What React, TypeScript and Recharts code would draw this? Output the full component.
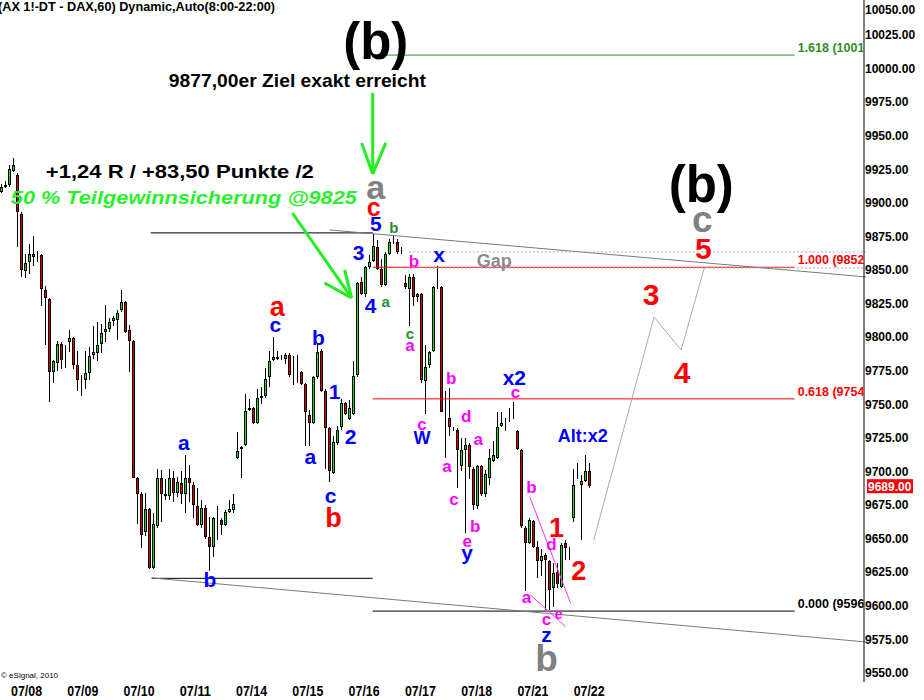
import React from 'react';
import { ComposedChart, Bar, XAxis, YAxis, ReferenceLine, ReferenceDot } from 'recharts';

// ---------- hourly candles (DAX future, 60 min) ----------
const opens = [
  9908, 9912, 9913, 9924, 9921, 9892, 9849, 9856, 9862, 9861,
  9861, 9835, 9828, 9774, 9781, 9795, 9785, 9796, 9799, 9779,
  9769, 9768, 9773, 9787, 9788, 9795, 9804, 9806, 9812, 9813,
  9820, 9826, 9805, 9797, 9695, 9683, 9655, 9672, 9628, 9659,
  9695, 9682, 9682, 9695, 9684, 9691, 9683, 9695, 9690, 9674,
  9660, 9673, 9651, 9644, 9665, 9664, 9660, 9670, 9671, 9710,
  9717, 9720, 9746, 9747, 9736, 9755, 9756, 9770, 9783, 9785,
  9784, 9784, 9787, 9771, 9773, 9774, 9765, 9742, 9736, 9770,
  9790, 9760, 9732, 9699, 9721, 9733, 9751, 9739, 9743, 9772,
  9841, 9832, 9852, 9857, 9867, 9851, 9839, 9862, 9871, 9871,
  9864, 9840, 9836, 9845, 9830, 9832, 9767, 9779, 9790, 9838,
  9837, 9743, 9740, 9732, 9731, 9704, 9716, 9720, 9702, 9674,
  9704, 9683, 9695, 9708, 9710, 9734, 9738, 9738, 9742, 9730,
  9716, 9658, 9647, 9663, 9644, 9633, 9638, 9633, 9613, 9625,
  9614, 9647, 9642, 9665, 9698, 9690, 9693, 9700,
];
const highs = [
  9914, 9916, 9928, 9933, 9922, 9893, 9862, 9869, 9875, 9864,
  9862, 9838, 9829, 9783, 9797, 9796, 9794, 9805, 9800, 9790,
  9772, 9790, 9793, 9808, 9811, 9810, 9824, 9814, 9816, 9820,
  9835, 9827, 9809, 9798, 9696, 9685, 9684, 9673, 9669, 9702,
  9701, 9694, 9702, 9700, 9696, 9700, 9712, 9705, 9692, 9688,
  9679, 9675, 9666, 9666, 9674, 9665, 9671, 9679, 9683, 9729,
  9719, 9758, 9754, 9748, 9761, 9763, 9777, 9790, 9800, 9790,
  9787, 9788, 9788, 9786, 9787, 9775, 9766, 9746, 9771, 9795,
  9791, 9761, 9733, 9726, 9734, 9754, 9752, 9753, 9782, 9841,
  9845, 9853, 9861, 9877, 9872, 9858, 9863, 9873, 9876, 9873,
  9867, 9846, 9847, 9847, 9833, 9833, 9794, 9790, 9838, 9853,
  9838, 9760, 9762, 9733, 9732, 9725, 9725, 9721, 9703, 9705,
  9705, 9701, 9717, 9723, 9744, 9744, 9740, 9747, 9752, 9731,
  9717, 9659, 9665, 9664, 9648, 9642, 9639, 9634, 9632, 9632,
  9647, 9649, 9644, 9702, 9706, 9697, 9712, 9706,
];
const lows = [
  9907, 9911, 9912, 9923, 9867, 9845, 9844, 9847, 9853, 9856,
  9823, 9794, 9752, 9766, 9775, 9776, 9777, 9789, 9776, 9760,
  9756, 9761, 9768, 9784, 9782, 9788, 9796, 9804, 9808, 9798,
  9819, 9803, 9774, 9695, 9661, 9643, 9652, 9627, 9627, 9658,
  9662, 9679, 9679, 9677, 9681, 9676, 9669, 9677, 9665, 9659,
  9658, 9650, 9626, 9636, 9649, 9653, 9659, 9669, 9669, 9709,
  9695, 9719, 9745, 9735, 9735, 9750, 9755, 9763, 9782, 9783,
  9783, 9780, 9770, 9764, 9766, 9764, 9719, 9719, 9735, 9769,
  9759, 9702, 9692, 9698, 9720, 9731, 9742, 9738, 9742, 9770,
  9831, 9830, 9851, 9856, 9850, 9837, 9838, 9861, 9869, 9862,
  9862, 9836, 9808, 9823, 9826, 9766, 9743, 9777, 9789, 9836,
  9744, 9710, 9726, 9730, 9688, 9700, 9654, 9694, 9671, 9672,
  9682, 9681, 9690, 9707, 9709, 9733, 9730, 9737, 9739, 9716,
  9658, 9611, 9646, 9643, 9621, 9622, 9597, 9597, 9599, 9613,
  9613, 9634, 9634, 9662, 9694, 9649, 9692, 9688,
];
const closes = [
  9912, 9913, 9925, 9928, 9893, 9850, 9855, 9862, 9860, 9862,
  9836, 9829, 9774, 9782, 9795, 9783, 9786, 9799, 9779, 9768,
  9768, 9773, 9786, 9789, 9794, 9803, 9806, 9811, 9814, 9818,
  9826, 9804, 9797, 9695, 9683, 9653, 9672, 9628, 9661, 9695,
  9683, 9683, 9695, 9684, 9692, 9683, 9695, 9691, 9675, 9660,
  9673, 9651, 9644, 9665, 9666, 9660, 9670, 9672, 9676, 9715,
  9718, 9745, 9747, 9736, 9755, 9756, 9769, 9782, 9785, 9784,
  9784, 9787, 9772, 9772, 9774, 9765, 9744, 9736, 9770, 9789,
  9760, 9732, 9700, 9722, 9731, 9751, 9743, 9747, 9771, 9840,
  9832, 9852, 9856, 9868, 9851, 9839, 9862, 9871, 9871, 9863,
  9864, 9837, 9845, 9830, 9832, 9768, 9778, 9789, 9837, 9838,
  9744, 9743, 9733, 9732, 9716, 9716, 9720, 9703, 9675, 9704,
  9683, 9698, 9710, 9712, 9733, 9736, 9738, 9739, 9742, 9717,
  9659, 9647, 9664, 9644, 9633, 9637, 9634, 9612, 9624, 9616,
  9645, 9643, 9642, 9690, 9697, 9693, 9700, 9689,
];

// time axis: hourly slots (incl. future empty slots), first bar of each day
const dayStartIndex = [3, 17, 31, 45, 59, 73, 87, 101, 115, 129, 143];
const dayLabels = ['07/08', '07/09', '07/10', '07/11', '07/14', '07/15', '07/16', '07/17', '07/18', '07/21', '07/22'];
const totalSlots = 216;

const priceTicks = [9550, 9575, 9600, 9625, 9650, 9675, 9700, 9725, 9750, 9775, 9800, 9825, 9850, 9875, 9900, 9925, 9950, 9975, 10000, 10025, 10050];
const lastPrice = 9689;

// Fibonacci levels
const fibRatios = ['1.618', '1.000', '0.618', '0.000'];
const fibValues = [10010, 9852, 9754, 9596];
const fibStart = 92.75;
const fibEnd = 197.75;

// drawn lines (data coordinates: slot index, price)
const segments = [
  { x1: 37.5, y1: 9877.6, x2: 92.75, y2: 9877.6, kind: 'black' },
  { x1: 37.75, y1: 9620.4, x2: 92.75, y2: 9620.4, kind: 'black' },
  { x1: 82, y1: 9879.8, x2: 215.5, y2: 9844.8, kind: 'trend' },
  { x1: 37.75, y1: 9620.7, x2: 215.5, y2: 9573.0, kind: 'trend' },
  { x1: 101.75, y1: 9863.4, x2: 215.5, y2: 9863.4, kind: 'gap' },
  { x1: 101.75, y1: 9851.5, x2: 215.5, y2: 9851.5, kind: 'gap' },
  { x1: 147.75, y1: 9648.9, x2: 162.75, y2: 9815.0, kind: 'proj' },
  { x1: 162.75, y1: 9815.0, x2: 169.5, y2: 9790.4, kind: 'proj' },
  { x1: 169.5, y1: 9790.4, x2: 175.25, y2: 9851.5, kind: 'proj' },
  { x1: 131.8, y1: 9681.2, x2: 142, y2: 9601.8, kind: 'mag' },
  { x1: 132, y1: 9608.0, x2: 140.75, y2: 9584.4, kind: 'mag' },
  { x1: 92.75, y1: 9981.8, x2: 92.75, y2: 9921.5, kind: 'arrow' },
  { x1: 90, y1: 9944.6, x2: 92.75, y2: 9921.5, kind: 'arrow' },
  { x1: 96, y1: 9944.6, x2: 92.75, y2: 9921.5, kind: 'arrow' },
  { x1: 72.75, y1: 9892.4, x2: 87.5, y2: 9829.2, kind: 'arrow' },
  { x1: 80.75, y1: 9840.3, x2: 87.5, y2: 9829.2, kind: 'arrow' },
  { x1: 85.75, y1: 9850.0, x2: 87.5, y2: 9829.2, kind: 'arrow' },
];

// text annotations (data coordinates)
const annotations = [
  { t: '(AX 1!-DT - DAX,60) Dynamic,Auto(8:00-22:00)', x: -0.5, y: 10045.0, kind: 'title' },
  { t: '\u00A9 eSignal, 2010', x: 0.25, y: 9548.5, kind: 'copy' },
  { t: '(b)', x: 93.5, y: 10017.5, kind: 'bigB' },
  { t: '9877,00er Ziel exakt erreicht', x: 74, y: 9991.5, kind: 'ziel' },
  { t: '+1,24 R / +83,50 Punkte /2', x: 44.75, y: 9923.7, kind: 'rtext' },
  { t: '50 % Teilgewinnsicherung @9825', x: 45.75, y: 9904.4, kind: 'teil' },
  { t: 'a', x: 93.5, y: 9909.6, kind: 'grey' },
  { t: 'c', x: 93, y: 9895.4, kind: 'red' },
  { t: '5', x: 93.5, y: 9885.0, kind: 'blue' },
  { t: 'b', x: 98, y: 9881.3, kind: 'green' },
  { t: '3', x: 89.25, y: 9863.4, kind: 'blue' },
  { t: '4', x: 92.25, y: 9823.9, kind: 'blue' },
  { t: 'a', x: 96, y: 9825.4, kind: 'green' },
  { t: 'b', x: 103, y: 9856.7, kind: 'mag' },
  { t: 'x', x: 109.25, y: 9860.4, kind: 'blue' },
  { t: 'Gap', x: 123, y: 9856.0, kind: 'gap' },
  { t: 'c', x: 102, y: 9801.6, kind: 'green' },
  { t: 'a', x: 102, y: 9792.7, kind: 'mag' },
  { t: 'a', x: 69, y: 9821.0, kind: 'redL' },
  { t: 'c', x: 68.5, y: 9808.3, kind: 'blue' },
  { t: 'b', x: 79.25, y: 9800.1, kind: 'blue' },
  { t: '1', x: 83.25, y: 9759.2, kind: 'blue' },
  { t: '2', x: 87.25, y: 9725.7, kind: 'blue' },
  { t: 'a', x: 77.25, y: 9710.0, kind: 'blue' },
  { t: 'c', x: 82.25, y: 9681.0, kind: 'blue' },
  { t: 'b', x: 83, y: 9666.1, kind: 'redL' },
  { t: 'a', x: 45.75, y: 9720.4, kind: 'blue' },
  { t: 'b', x: 52.25, y: 9619.2, kind: 'blue' },
  { t: 'c', x: 105, y: 9734.6, kind: 'mag' },
  { t: 'W', x: 105, y: 9724.9, kind: 'blueW' },
  { t: 'b', x: 112.25, y: 9769.6, kind: 'mag' },
  { t: 'd', x: 116, y: 9741.3, kind: 'mag' },
  { t: 'a', x: 119, y: 9723.4, kind: 'mag' },
  { t: 'a', x: 111.25, y: 9703.3, kind: 'mag' },
  { t: 'c', x: 113, y: 9678.7, kind: 'mag' },
  { t: 'b', x: 118.25, y: 9659.4, kind: 'mag' },
  { t: 'e', x: 116.25, y: 9647.5, kind: 'mag' },
  { t: 'y', x: 116.25, y: 9636.3, kind: 'blue' },
  { t: 'x2', x: 128, y: 9770.3, kind: 'blue' },
  { t: 'c', x: 128.25, y: 9758.4, kind: 'mag' },
  { t: 'Alt:x2', x: 145, y: 9726.4, kind: 'alt' },
  { t: 'b', x: 132.25, y: 9688.4, kind: 'mag' },
  { t: '1', x: 138.5, y: 9658.6, kind: 'redL' },
  { t: 'd', x: 137.25, y: 9646.0, kind: 'mag' },
  { t: '2', x: 144, y: 9626.6, kind: 'redL' },
  { t: 'a', x: 131, y: 9605.8, kind: 'mag' },
  { t: 'c', x: 136, y: 9589.4, kind: 'mag' },
  { t: 'e', x: 139, y: 9593.1, kind: 'magS' },
  { t: 'z', x: 136, y: 9577.5, kind: 'blue' },
  { t: 'b', x: 136, y: 9561.1, kind: 'greyB' },
  { t: '(b)', x: 174.5, y: 9911.1, kind: 'bigB' },
  { t: 'c', x: 174.75, y: 9885.7, kind: 'greyC' },
  { t: '5', x: 175, y: 9866.4, kind: 'redXL' },
  { t: '3', x: 162, y: 9832.1, kind: 'redXL' },
  { t: '4', x: 169.75, y: 9774.1, kind: 'redXL' },
];

// ---------- styles ----------
const CHART_W = 924;
const CHART_H = 700;
const FONT = "'Liberation Sans', Arial, Helvetica, sans-serif";
const UP = '#22dd22';
const DOWN = '#dd0000';

type TextStyle = { size: number; color: string; weight?: string; italic?: boolean; anchor?: 'start' | 'middle'; width?: number };
const TEXT_STYLES: Record<string, TextStyle> = {
  title: { size: 12, color: '#000', anchor: 'start', width: 277 },
  copy: { size: 8, color: '#000', weight: 'normal', anchor: 'start' },
  bigB: { size: 51, color: '#000' },
  ziel: { size: 19, color: '#000', width: 257 },
  rtext: { size: 19, color: '#000', width: 268 },
  teil: { size: 19, color: '#2bef2b', italic: true, width: 346 },
  grey: { size: 34, color: '#808080' },
  greyC: { size: 37, color: '#808080' },
  greyB: { size: 37, color: '#808080' },
  red: { size: 25, color: '#ff0000' },
  redL: { size: 27, color: '#ff0000' },
  redXL: { size: 30, color: '#ff0000' },
  blue: { size: 21, color: '#0000ff' },
  blueW: { size: 18, color: '#0000ff' },
  alt: { size: 18, color: '#0000ff' },
  mag: { size: 17, color: '#ff00ff' },
  magS: { size: 14, color: '#ff00ff' },
  green: { size: 15, color: '#2e8b2e' },
  gap: { size: 18, color: '#8c8c8c' },
};

type LineStyle = { stroke: string; width: number; dash?: string };
const LINE_STYLES: Record<string, LineStyle> = {
  black: { stroke: '#000', width: 1 },
  trend: { stroke: '#6f806f', width: 1 },
  gap: { stroke: '#b4a4d4', width: 1, dash: '2 2' },
  proj: { stroke: '#aaa6c4', width: 1 },
  mag: { stroke: '#ff33ff', width: 1 },
  arrow: { stroke: '#22ee22', width: 3 },
};
const FIB_COLORS = ['#2e8b2e', '#ff0000', '#ff0000', '#000000'];

const baselineK = (t: string) => {
  if (/^\(.*\)$/.test(t)) return 0.27;
  if (/^[acemnorsuvwxz]+$/.test(t)) return 0.27;
  if (/^[gpqy]$/.test(t)) return 0.16;
  if (t === 'Gap') return 0.26;
  return 0.36;
};

const Candle = (props: any) => {
  const { x, y, width, height, payload } = props;
  if (!payload || payload.o == null || !isFinite(y) || !isFinite(height)) return null;
  const top = Math.min(y, y + height);
  const bot = Math.max(y, y + height);
  const k = (bot - top) / (payload.h - payload.l);
  const py = (p: number) => top + (payload.h - p) * k;
  const cx = Math.round(x + width / 2);
  const up = payload.c >= payload.o;
  const bTop = Math.round(py(Math.max(payload.o, payload.c)));
  const bBot = Math.round(py(Math.min(payload.o, payload.c)));
  return (
    <g>
      <line x1={cx - 0.5} x2={cx - 0.5} y1={Math.round(top)} y2={Math.round(bot)} stroke="#000" strokeWidth={1} />
      <rect x={cx - 1.5} y={bTop + 0.5} width={2} height={Math.max(bBot - bTop - 1, 0)} fill={up ? UP : DOWN} stroke="#000" strokeWidth={1} />
    </g>
  );
};

const PriceTick = (props: any) => {
  const { x, y, payload } = props;
  const yy = Math.max(y, 10);
  return (
    <text x={x} y={yy} dy="0.36em" textAnchor="start" fontFamily={FONT} fontWeight="bold" fontSize={12} fill="#000">
      {Number(payload.value).toFixed(2)}
    </text>
  );
};

const DateTick = (props: any) => {
  const { x, payload } = props;
  const idx = dayStartIndex.indexOf(payload.value);
  if (idx < 0) return null;
  return (
    <text x={x - 1} y={CHART_H - 4} textAnchor="start" fontFamily="'Liberation Sans Narrow', 'Arial Narrow', 'Liberation Sans', Arial, sans-serif" fontWeight="bold" fontSize={15} fill="#000" textLength={31} lengthAdjust="spacingAndGlyphs">
      {dayLabels[idx]}
    </text>
  );
};

const AnnText = ({ cx, cy, t, kind }: { cx: number; cy: number; t: string; kind: string }) => {
  const s = TEXT_STYLES[kind];
  const base = cy + baselineK(t) * s.size;
  const extra: any = s.width ? { textLength: s.width, lengthAdjust: 'spacingAndGlyphs' } : {};
  return (
    <text
      x={cx}
      y={base}
      textAnchor={s.anchor || 'middle'}
      fontFamily={FONT}
      fontSize={s.size}
      fontWeight={s.weight || 'bold'}
      fontStyle={s.italic ? 'italic' : 'normal'}
      fill={s.color}
      {...extra}
    >
      {t}
    </text>
  );
};

export default function App() {
  const data = Array.from({ length: totalSlots }, (_, i) =>
    i < opens.length
      ? { i, o: opens[i], h: highs[i], l: lows[i], c: closes[i], range: [lows[i], highs[i]] }
      : { i }
  );

  return (
    <div style={{ position: 'absolute', left: 0, top: 0, width: CHART_W, height: CHART_H, background: '#fff' }}>
      <ComposedChart width={CHART_W} height={CHART_H} data={data} margin={{ top: 0, right: 0, bottom: 0, left: 0 }}>
        <XAxis xAxisId="c" dataKey="i" type="category" hide />
        <XAxis
          xAxisId="n"
          type="number"
          domain={[-0.5, totalSlots - 0.5]}
          allowDataOverflow
          ticks={dayStartIndex}
          interval={0}
          height={18}
          axisLine={{ stroke: '#000', strokeWidth: 1 }}
          tickLine={false}
          tickSize={0}
          tickMargin={0}
          tick={<DateTick />}
        />
        <YAxis
          orientation="right"
          width={60}
          domain={[9543.2, 10051]}
          allowDataOverflow
          ticks={priceTicks}
          interval={0}
          axisLine={{ stroke: '#000', strokeWidth: 1 }}
          tickLine={false}
          tickSize={0}
          tickMargin={1}
          tick={<PriceTick />}
        />

        {fibValues.map((v, k) => (
          <ReferenceLine
            key={'fib' + k}
            xAxisId="n"
            segment={[{ x: fibStart, y: v }, { x: fibEnd, y: v }]}
            stroke={FIB_COLORS[k]}
            strokeWidth={1}
            ifOverflow="visible"
          />
        ))}
        {segments.map((s, k) => {
          const st = LINE_STYLES[s.kind];
          return (
            <ReferenceLine
              key={'seg' + k}
              xAxisId="n"
              segment={[{ x: s.x1, y: s.y1 }, { x: s.x2, y: s.y2 }]}
              stroke={st.stroke}
              strokeWidth={st.width}
              strokeDasharray={st.dash}
              ifOverflow="visible"
            />
          );
        })}

        <Bar xAxisId="c" dataKey="range" shape={<Candle />} isAnimationActive={false} />

        {fibValues.map((v, k) => (
          <ReferenceDot
            key={'fibl' + k}
            xAxisId="n"
            x={fibEnd + 0.75}
            y={v}
            r={0}
            ifOverflow="visible"
            shape={(p: any) => (
              <svg x={p.cx} y={p.cy - 18} width={66} height={20} overflow="hidden">
                <text x={0} y={15} fontFamily={FONT} fontWeight="bold" fontSize={12.5} fill={FIB_COLORS[k]}>
                  {`${fibRatios[k]} (${v.toFixed(2)})`}
                </text>
              </svg>
            )}
          />
        ))}

        {annotations.map((a, k) => (
          <ReferenceDot
            key={'ann' + k}
            xAxisId="n"
            x={a.x}
            y={a.y}
            r={0}
            ifOverflow="visible"
            shape={(p: any) => <AnnText cx={p.cx} cy={p.cy} t={a.t} kind={a.kind} />}
          />
        ))}

        <ReferenceDot
          xAxisId="n"
          x={totalSlots - 0.5}
          y={lastPrice}
          r={0}
          ifOverflow="visible"
          shape={(p: any) => (
            <g>
              <rect x={p.cx + 1} y={p.cy - 7} width={46} height={14} fill="#ff0000" />
              <text x={p.cx + 2} y={p.cy + 4.5} fontFamily={FONT} fontWeight="bold" fontSize={12} fill="#fff">
                {lastPrice.toFixed(2)}
              </text>
            </g>
          )}
        />
      </ComposedChart>
    </div>
  );
}
